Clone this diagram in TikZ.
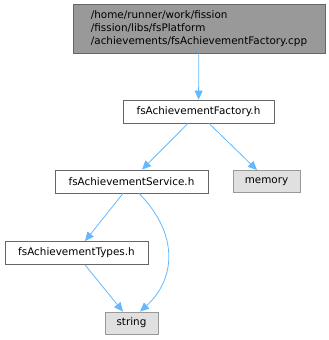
\documentclass[tikz,border=0pt]{standalone}
\usepackage{fontspec}
\setmainfont{DejaVu Sans}
\usepackage{tikz}
\usetikzlibrary{arrows.meta,positioning}
\definecolor{edgeblue}{RGB}{99,184,255}
\definecolor{darkgrey}{RGB}{102,102,102}
\definecolor{midgrey}{RGB}{153,153,153}
\definecolor{lightgrey}{RGB}{224,224,224}

\begin{document}
\begin{tikzpicture}[x=1pt, y=1pt, every node/.style={font=\fontsize{10.4}{13}\selectfont},
    filebox/.style={draw=darkgrey, fill=white, line width=0.8pt, inner sep=0pt, minimum height=23pt},
    mainbox/.style={draw=darkgrey, fill=midgrey, line width=0.8pt, inner sep=0pt, minimum height=49pt, align=left},
    sysbox/.style={draw=midgrey, fill=lightgrey, line width=0.8pt, inner sep=0pt, minimum height=22pt},
    dep/.style={-{Triangle[length=9pt,width=8pt]}, edgeblue, line width=0.8pt}]
				\useasboundingbox (0,0) rectangle (329,-340);
				\node[mainbox, minimum width=252pt] (cpp) at (199,-28.5) {/home/runner/work/fission\\/fission/libs/fsPlatform\\/achievements/fsAchievementFactory.cpp};
				\node[filebox, minimum width=151pt] (fac) at (198.5,-111.5) {fsAchievementFactory.h};
				\node[filebox, minimum width=153pt] (svc) at (131.5,-181.5) {fsAchievementService.h};
				\node[sysbox, minimum width=67pt] (mem) at (266.5,-181.5) {memory};
				\node[filebox, minimum width=143pt] (typ) at (76.5,-253) {fsAchievementTypes.h};
				\node[sysbox, minimum width=53pt] (str) at (131.5,-323) {string};
				\draw[dep] (cpp) -- (fac);
				\draw[dep] ([xshift=-10.5pt]fac.south) -- ([xshift=10.5pt]svc.north);
				\draw[dep] ([xshift=10.5pt]fac.south) -- ([xshift=-9.5pt]mem.north);
				\draw[dep] ([xshift=-8.5pt]svc.south) -- ([xshift=8.5pt]typ.north);
				\draw[dep] ([xshift=7.5pt]svc.south) .. controls (180,-235) and (175,-280) .. ([xshift=8.5pt]str.north);
				\draw[dep] ([xshift=8.5pt]typ.south) -- ([xshift=-8.5pt]str.north);
			\end{tikzpicture}
\end{document}
